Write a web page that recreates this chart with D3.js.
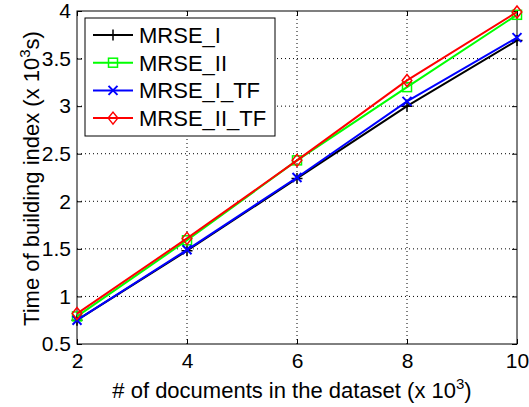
<!DOCTYPE html>
<html>
<head>
<meta charset="utf-8">
<script src="https://cdn.jsdelivr.net/npm/d3@7"></script>
<style>
  html, body { margin: 0; padding: 0; background: #fff; }
  svg { display: block; }
  text { font-family: "Liberation Sans", Arial, Helvetica, sans-serif; fill: #000; }
</style>
</head>
<body>
<svg id="chart" width="529" height="407"></svg>
<script>
// Number of documents (x 10^3)
const docs = [2, 4, 6, 8, 10];
// Index build time (x 10^3 s) per scheme
const mrseI    = [0.75, 1.48, 2.24, 3.00, 3.69];
const mrseII   = [0.79, 1.59, 2.43, 3.20, 3.96];
const mrseITF  = [0.75, 1.49, 2.25, 3.05, 3.72];
const mrseIITF = [0.82, 1.61, 2.43, 3.27, 3.99];

const seriesNames = ["MRSE_I", "MRSE_II", "MRSE_I_TF", "MRSE_II_TF"];
const seriesValues = [mrseI, mrseII, mrseITF, mrseIITF];
const seriesColors = ["#000000", "#00ff00", "#0000ff", "#ff0000"];
const seriesMarkers = ["plus", "square", "cross", "diamond"];

const xTicks = [2, 4, 6, 8, 10];
const yTicks = [0.5, 1, 1.5, 2, 2.5, 3, 3.5, 4];

const svg = d3.select("#chart");
const pL = 77, pR = 517, pT = 11, pB = 344;

const x = d3.scaleLinear().domain([2, 10]).range([pL, pR]);
const y = d3.scaleLinear().domain([0.5, 4]).range([pB, pT]);

// dotted grid
const grid = svg.append("g").attr("stroke", "#000").attr("stroke-width", 1)
  .attr("stroke-dasharray", "1,3");
xTicks.slice(1, -1).forEach(t => {
  grid.append("line").attr("x1", x(t)).attr("x2", x(t)).attr("y1", pT).attr("y2", pB);
});
yTicks.slice(1, -1).forEach(t => {
  grid.append("line").attr("x1", pL).attr("x2", pR).attr("y1", y(t)).attr("y2", y(t));
});

// axes with inward ticks on all four sides
const tickLen = 5;
const axB = d3.axisBottom(x).tickValues(xTicks).tickSize(-tickLen).tickPadding(9)
  .tickFormat(d3.format("d"));
const axT = d3.axisTop(x).tickValues(xTicks).tickSize(-tickLen).tickFormat("");
const axL = d3.axisLeft(y).tickValues(yTicks).tickSize(-tickLen).tickPadding(6)
  .tickFormat(d => d3.format("")(d));
const axR = d3.axisRight(y).tickValues(yTicks).tickSize(-tickLen).tickFormat("");

function styleAxis(g) {
  g.select(".domain").remove();
  g.selectAll(".tick line").attr("stroke", "#000").attr("stroke-width", 1);
  g.selectAll("text").attr("font-size", 21).attr("fill", "#000")
    .attr("font-family", "Liberation Sans, Arial, sans-serif");
}
svg.append("g").attr("transform", `translate(0,${pB})`).call(axB).call(styleAxis);
svg.append("g").attr("transform", `translate(0,${pT})`).call(axT).call(styleAxis);
svg.append("g").attr("transform", `translate(${pL},0)`).call(axL).call(styleAxis);
svg.append("g").attr("transform", `translate(${pR},0)`).call(axR).call(styleAxis);

// plot frame
svg.append("rect").attr("x", pL).attr("y", pT).attr("width", pR - pL)
  .attr("height", pB - pT).attr("fill", "none").attr("stroke", "#000").attr("stroke-width", 1);

// marker shapes
function drawMarker(g, type, cx, cy, color) {
  const s = 5.5;
  if (type === "plus") {
    g.append("path").attr("d", `M${cx - s},${cy}H${cx + s}M${cx},${cy - s}V${cy + s}`)
      .attr("stroke", color).attr("stroke-width", 1.5).attr("fill", "none");
  } else if (type === "cross") {
    const c = 4.5;
    g.append("path").attr("d", `M${cx - c},${cy - c}L${cx + c},${cy + c}M${cx - c},${cy + c}L${cx + c},${cy - c}`)
      .attr("stroke", color).attr("stroke-width", 2).attr("fill", "none");
  } else if (type === "square") {
    const h = 4.5;
    g.append("rect").attr("x", cx - h).attr("y", cy - h).attr("width", 2 * h).attr("height", 2 * h)
      .attr("stroke", color).attr("stroke-width", 1.5).attr("fill", "none");
  } else if (type === "diamond") {
    const d = 6;
    g.append("path").attr("d", `M${cx},${cy - d}L${cx + d * 0.8},${cy}L${cx},${cy + d}L${cx - d * 0.8},${cy}Z`)
      .attr("stroke", color).attr("stroke-width", 1.5).attr("fill", "none");
  }
}

// series lines and markers
const line = d3.line().x((d, i) => x(docs[i])).y(d => y(d));
const plot = svg.append("g");
seriesValues.forEach((vals, k) => {
  const g = plot.append("g");
  g.append("path").datum(vals).attr("d", line).attr("fill", "none")
    .attr("stroke", seriesColors[k]).attr("stroke-width", 2);
  vals.forEach((v, i) => drawMarker(g, seriesMarkers[k], x(docs[i]), y(v), seriesColors[k]));
});

// legend
const lg = svg.append("g");
lg.append("rect").attr("x", 85).attr("y", 18).attr("width", 190).attr("height", 118)
  .attr("fill", "#fff").attr("stroke", "#000").attr("stroke-width", 1);
seriesNames.forEach((name, k) => {
  const cy = 35 + k * 27.7;
  lg.append("line").attr("x1", 93).attr("x2", 133).attr("y1", cy).attr("y2", cy)
    .attr("stroke", seriesColors[k]).attr("stroke-width", 2);
  drawMarker(lg, seriesMarkers[k], 113, cy, seriesColors[k]);
  lg.append("text").attr("x", 139).attr("y", cy + 8).attr("font-size", 22).text(name);
});

// axis titles
const xt = svg.append("text").attr("x", 292).attr("y", 398)
  .attr("text-anchor", "middle").attr("font-size", 22);
xt.append("tspan").text("# of documents in the dataset (x 10");
xt.append("tspan").attr("font-size", 15).attr("dy", -9).text("3");
xt.append("tspan").attr("dy", 9).text(")");

const yt = svg.append("text")
  .attr("transform", `translate(39,${(pT + pB) / 2 + 1}) rotate(-90)`)
  .attr("text-anchor", "middle").attr("font-size", 22);
yt.append("tspan").text("Time of building index (x 10");
yt.append("tspan").attr("font-size", 15).attr("dy", -9).text("3");
yt.append("tspan").attr("dy", 9).text("s)");
</script>
</body>
</html>
